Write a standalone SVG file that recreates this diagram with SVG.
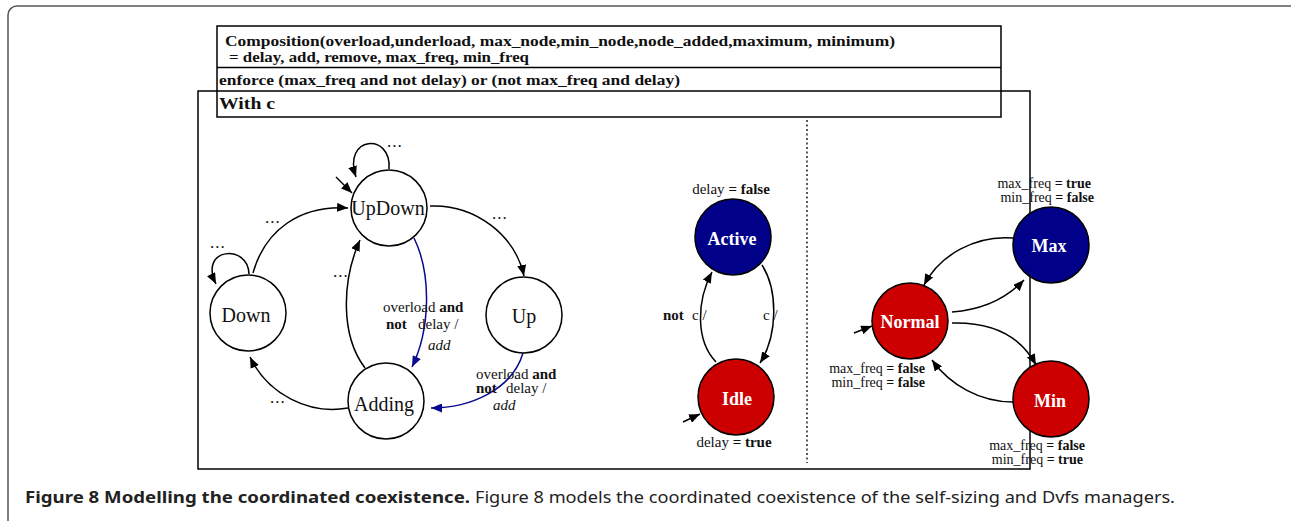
<svg xmlns="http://www.w3.org/2000/svg" width="1291" height="521" viewBox="0 0 1291 521">
<defs>
<marker id="ah" markerUnits="userSpaceOnUse" markerWidth="11" markerHeight="9" refX="11" refY="4.5" orient="auto"><path d="M0,0 L11,4.5 L0,9 z" fill="#000"/></marker>
<marker id="ahb" markerUnits="userSpaceOnUse" markerWidth="11" markerHeight="9" refX="11" refY="4.5" orient="auto"><path d="M0,0 L11,4.5 L0,9 z" fill="#0a0a8c"/></marker>
</defs>
<style>
.frame{fill:none;stroke:#555;stroke-width:1.5}
.box{fill:none;stroke:#000;stroke-width:1.5}
.st{fill:#fff;stroke:#000;stroke-width:1.5}
.blue{fill:#000088;stroke:#000;stroke-width:1.5}
.red{fill:#cc0000;stroke:#000;stroke-width:1.5}
.e{fill:none;stroke:#000;stroke-width:1.5;marker-end:url(#ah)}
.eb{fill:none;stroke:#0a0a8c;stroke-width:1.5;marker-end:url(#ahb)}
text{font-family:"Liberation Serif","Times New Roman",serif;fill:#111}
.hd{font-size:15px;font-weight:bold}
.nl{font-size:20px;text-anchor:middle}
.cl{font-size:18px;font-weight:bold;fill:#fff;text-anchor:middle}
.lb{font-size:15px}
.fq{font-size:14px;text-anchor:end}
.b{font-weight:bold}
.i{font-style:italic}
.dots{font-size:17px;letter-spacing:1px}
.cap{font-family:"Noto Sans","Open Sans",sans-serif;font-size:16px;fill:#222}
</style>
<rect class="frame" x="8" y="6" width="1300" height="540" rx="9"/>
<g id="header">
<rect class="box" x="217" y="26" width="784" height="91"/>
<line class="box" x1="217" y1="67.5" x2="1001" y2="67.5"/>
<text class="hd" x="225" y="46" textLength="670" lengthAdjust="spacingAndGlyphs">Composition(overload,underload, max_node,min_node,node_added,maximum, minimum)</text>
<text class="hd" x="229" y="62" textLength="300" lengthAdjust="spacingAndGlyphs">= delay, add, remove, max_freq, min_freq</text>
<text class="hd" x="219" y="85" textLength="461" lengthAdjust="spacingAndGlyphs">enforce (max_freq and not delay) or (not max_freq and delay)</text>
<text class="hd" x="219" y="109" style="font-size:17px" textLength="56" lengthAdjust="spacingAndGlyphs">With c</text>
</g>
<rect class="box" x="198" y="91" width="832" height="378"/>
<line x1="807" y1="120" x2="807" y2="463" stroke="#000" stroke-width="1.3" stroke-dasharray="2,2.5"/>
<g id="connectors">
<path class="e" d="M389 169 C392 132, 342 136, 356 177"/>
<path class="e" d="M336 177 L352 193"/>
<path class="e" d="M430 206 C475 204, 515 235, 524 276"/>
<path class="e" d="M253 273 C265 230, 300 205, 348 208"/>
<path class="e" d="M249 274 C248 243, 198 248, 216 284"/>
<path class="e" d="M365 368 C340 335, 342 280, 360 240"/>
<path class="e" d="M348 408 C310 415, 268 395, 250 357"/>
<path class="eb" d="M414 238 C432 275, 430 330, 412 367"/>
<path class="eb" d="M523 353 C512 390, 470 408, 431 408"/>
<path class="e" d="M716 362 C695 340, 697 300, 712 272"/>
<path class="e" d="M762 265 C778 290, 778 335, 760 363"/>
<path class="e" d="M683 422 L700 414"/>
<path class="e" d="M1013 238 C975 235, 940 255, 924 285"/>
<path class="e" d="M952 312 C980 310, 1005 300, 1024 280"/>
<path class="e" d="M952 323 C990 322, 1020 335, 1036 365"/>
<path class="e" d="M1013 402 C980 402, 950 385, 932 360"/>
<path class="e" d="M854 333 L872 326"/>
<text class="dots" x="387" y="147">...</text>
<text class="dots" x="492" y="219">...</text>
<text class="dots" x="265" y="223">...</text>
<text class="dots" x="210" y="248">...</text>
<text class="dots" x="333" y="277">...</text>
<text class="dots" x="270" y="403">...</text>
<text class="lb" x="383" y="312">overload <tspan class="b">and</tspan></text>
<text class="lb" x="386" y="329"><tspan class="b">not</tspan></text>
<text class="lb" x="418" y="329">delay /</text>
<text class="lb i" x="428" y="350">add</text>
<text class="lb" x="476" y="379">overload <tspan class="b">and</tspan></text>
<text class="lb" x="476" y="393"><tspan class="b">not</tspan></text>
<text class="lb" x="506" y="393">delay /</text>
<text class="lb i" x="493" y="410">add</text>
<text class="lb" x="663" y="320"><tspan class="b">not</tspan></text>
<text class="lb" x="692" y="320">c /</text>
<text class="lb" x="763" y="320">c /</text>
</g>
<g id="UpDown"><circle class="st" cx="389" cy="208" r="38"/><text class="nl" x="388" y="215">UpDown</text></g>
<g id="Down"><circle class="st" cx="248" cy="313" r="38"/><text class="nl" x="246" y="322">Down</text></g>
<g id="Up"><circle class="st" cx="524" cy="315" r="38"/><text class="nl" x="524" y="323">Up</text></g>
<g id="Adding"><circle class="st" cx="386" cy="401" r="38"/><text class="nl" x="384" y="411">Adding</text></g>
<g id="Active"><circle class="blue" cx="733" cy="237" r="38"/><text class="cl" x="732" y="245">Active</text>
<text class="lb" x="731" y="194" text-anchor="middle">delay <tspan class="b">= false</tspan></text></g>
<g id="Idle"><circle class="red" cx="736" cy="397" r="38"/><text class="cl" x="737" y="405">Idle</text>
<text class="lb" x="734" y="447" text-anchor="middle">delay <tspan class="b">= true</tspan></text></g>
<g id="Max"><circle class="blue" cx="1051" cy="245" r="38"/><text class="cl" x="1049" y="252">Max</text>
<text class="fq" x="1091" y="188">max_freq <tspan class="b">= true</tspan></text>
<text class="fq" x="1094" y="202">min_freq <tspan class="b">= false</tspan></text></g>
<g id="Normal"><circle class="red" cx="910" cy="321" r="38"/><text class="cl" x="910" y="328">Normal</text>
<text class="fq" x="925" y="373">max_freq <tspan class="b">= false</tspan></text>
<text class="fq" x="925" y="387">min_freq <tspan class="b">= false</tspan></text></g>
<g id="Min"><circle class="red" cx="1051" cy="399" r="38"/><text class="cl" x="1050" y="407">Min</text>
<text class="fq" x="1085" y="450">max_freq <tspan class="b">= false</tspan></text>
<text class="fq" x="1083" y="464">min_freq <tspan class="b">= true</tspan></text></g>
<g id="caption">
<text class="cap" x="25" y="503" font-weight="bold" textLength="445" lengthAdjust="spacingAndGlyphs">Figure 8 Modelling the coordinated coexistence.</text>
<text class="cap" x="475" y="503" textLength="700" lengthAdjust="spacingAndGlyphs">Figure 8 models the coordinated coexistence of the self-sizing and Dvfs managers.</text>
</g>
</svg>
